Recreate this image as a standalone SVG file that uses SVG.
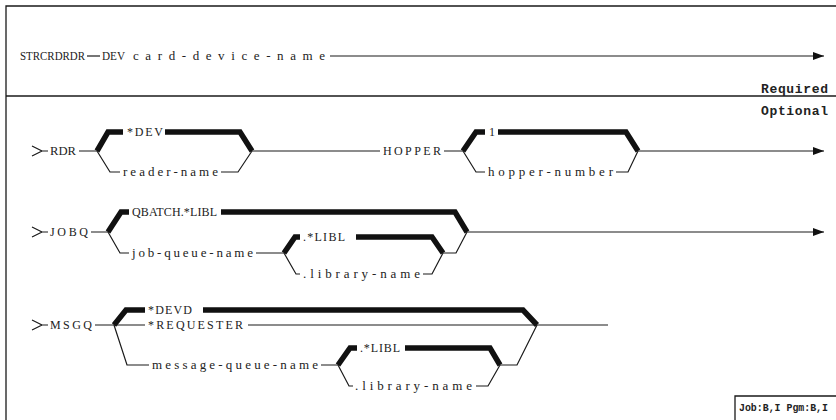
<svg xmlns="http://www.w3.org/2000/svg" width="836" height="420" viewBox="0 0 836 420">
<style>
.bg{fill:#fff}
.frame{stroke:#1a1a1a;stroke-width:1.3;fill:none}
.thin{stroke:#1a1a1a;stroke-width:1.2;fill:none}
.thick{stroke:#111;stroke-width:5.5;fill:none;stroke-linejoin:miter;stroke-linecap:butt}
.t{font-family:"Liberation Serif","Times New Roman",serif;font-size:13px;fill:#222}
.u{font-family:"Liberation Serif","Times New Roman",serif;font-size:12px;fill:#222}
.b{font-family:"Liberation Mono","Courier New",monospace;font-size:13px;font-weight:bold;fill:#222}
.s{font-family:"Liberation Mono","Courier New",monospace;font-size:11px;font-weight:bold;fill:#222}
</style>
<defs>
<marker id="ah" markerUnits="userSpaceOnUse" markerWidth="12" markerHeight="10" refX="11" refY="5" orient="auto">
<path d="M0,1 L11,5 L0,9 Z" fill="#111"/>
</marker>
</defs>
<rect class="bg" width="836" height="420"/>
<g id="frame">
<path class="frame" d="M836,6 H6 V420"/>
<path class="frame" d="M6,96 H836"/>
<text class="b" x="828" y="93" text-anchor="end" textLength="67" lengthAdjust="spacing">Required</text>
<text class="b" x="828" y="115" text-anchor="end" textLength="67" lengthAdjust="spacing">Optional</text>
</g>
<g id="required">
<text class="u" x="20" y="60" textLength="65" lengthAdjust="spacingAndGlyphs">STRCRDRDR</text>
<text class="u" x="102" y="60" textLength="23" lengthAdjust="spacingAndGlyphs">DEV</text>
<text class="t" x="133" y="60" textLength="192" lengthAdjust="spacing">card-device-name</text>
</g>
<g id="rdr">
<text class="u" x="50" y="155" textLength="26" lengthAdjust="spacingAndGlyphs">RDR</text>
<text class="u" x="127" y="136" textLength="36" lengthAdjust="spacing">*DEV</text>
<text class="t" x="123" y="176" textLength="95" lengthAdjust="spacing">reader-name</text>
<text class="u" x="383" y="155" textLength="58" lengthAdjust="spacing">HOPPER</text>
<text class="u" x="489" y="136">1</text>
<text class="t" x="488" y="176" textLength="125" lengthAdjust="spacing">hopper-number</text>
</g>
<g id="jobq">
<text class="u" x="50" y="236" textLength="38" lengthAdjust="spacing">JOBQ</text>
<text class="u" x="132" y="216" textLength="85" lengthAdjust="spacing">QBATCH.*LIBL</text>
<text class="t" x="132" y="257" textLength="121" lengthAdjust="spacing">job-queue-name</text>
<text class="u" x="303" y="241" textLength="42" lengthAdjust="spacing">.*LIBL</text>
<text class="t" x="303" y="278" textLength="117" lengthAdjust="spacing">.library-name</text>
</g>
<g id="msgq">
<text class="u" x="50" y="329" textLength="42" lengthAdjust="spacing">MSGQ</text>
<text class="u" x="148" y="314" textLength="44" lengthAdjust="spacing">*DEVD</text>
<text class="u" x="148" y="329" textLength="95" lengthAdjust="spacing">*REQUESTER</text>
<text class="t" x="152" y="369" textLength="166" lengthAdjust="spacing">message-queue-name</text>
<text class="u" x="360" y="352" textLength="40" lengthAdjust="spacing">.*LIBL</text>
<text class="t" x="355" y="390" textLength="117" lengthAdjust="spacing">.library-name</text>
</g>
<g id="env">
<path class="frame" d="M735,420 V396 H836"/>
<text class="s" x="739" y="411" textLength="89" lengthAdjust="spacingAndGlyphs">Job:B,I Pgm:B,I</text>
</g>
<g id="connectors">
<path class="thin" d="M87,56 H100"/>
<path class="thin" d="M330,56 H824" marker-end="url(#ah)"/>
<path class="thin" d="M32,146 L42,151 L32,156 M42,151 H48 M79,151 H97"/>
<path class="thick" d="M97,151 L108,132 H123"/>
<path class="thick" d="M165,132 H240 L252,151"/>
<path class="thin" d="M97,151 L110,172 H120 M221,172 H238 L252,151"/>
<path class="thin" d="M252,151 H380 M444,151 H463"/>
<path class="thick" d="M463,151 L476,132 H485"/>
<path class="thick" d="M498,132 H626 L638,151"/>
<path class="thin" d="M463,151 L476,172 H485 M616,172 H628 L638,151"/>
<path class="thin" d="M638,151 H824" marker-end="url(#ah)"/>
<path class="thin" d="M32,227 L42,232 L32,237 M42,232 H48 M91,232 H108"/>
<path class="thick" d="M108,232 L121,212 H129"/>
<path class="thick" d="M221,212 H455 L467,232"/>
<path class="thin" d="M108,232 L120,253 H129 M256,253 H284"/>
<path class="thick" d="M284,253 L295,237 H300"/>
<path class="thick" d="M356,237 H432 L443,253"/>
<path class="thin" d="M284,253 L296,274 H300 M423,274 H432 L443,253 M443,253 H456 L467,232"/>
<path class="thin" d="M467,232 H824" marker-end="url(#ah)"/>
<path class="thin" d="M32,320 L42,325 L32,330 M42,325 H48 M95,325 H114"/>
<path class="thick" d="M114,325 L126,310 H145"/>
<path class="thick" d="M203,310 H523 L537,325"/>
<path class="thin" d="M114,325 H145 M248,325 H608"/>
<path class="thin" d="M114,325 L127,365 H149 M321,365 H338"/>
<path class="thick" d="M338,365 L350,348 H357"/>
<path class="thick" d="M405,348 H490 L500,365"/>
<path class="thin" d="M338,365 L349,386 H353 M476,386 H488 L500,365 M500,365 H517 L537,325"/>
</g>
</svg>
